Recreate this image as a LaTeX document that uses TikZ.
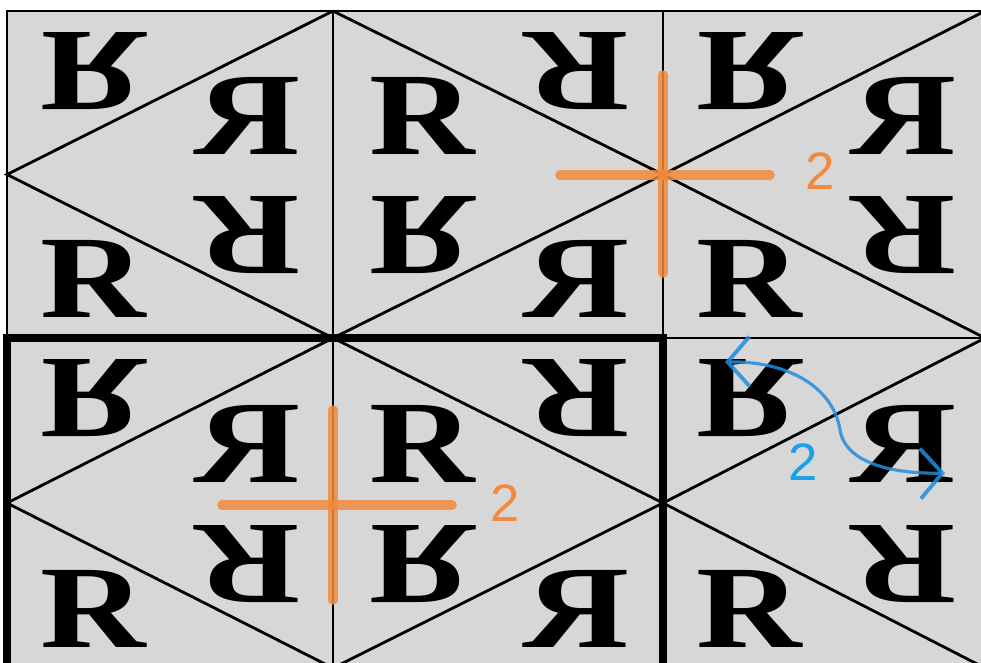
\documentclass[tikz,border=0pt]{standalone}
\usepackage{fontspec}
\setmainfont{Liberation Serif}
\newfontfamily\digitfont{Liberation Sans}
\usetikzlibrary{arrows.meta}
\definecolor{tilegray}{RGB}{215,215,215}
\definecolor{crossorange}{RGB}{242,138,60}
\definecolor{turnblue}{RGB}{35,140,220}
\definecolor{labelblue}{RGB}{25,160,230}
\tikzstyle{tileline}=[draw=black, line width=0.8pt]
\tikzstyle{boldline}=[draw=black, line width=2.2pt]
\tikzstyle{letter}=[inner sep=0pt, font=\fontsize{33.5}{34}\selectfont\bfseries, xscale=1.24]
\tikzstyle{rnormal}=[letter]
\tikzstyle{rhflip}=[letter, xscale=-1]
\tikzstyle{rvflip}=[letter, yscale=-1]
\tikzstyle{rturned}=[letter, rotate=180]
\tikzstyle{crossbar}=[draw=crossorange, opacity=0.85, line width=2.7pt, line cap=round]
\tikzstyle{ordernum}=[inner sep=0pt, font=\digitfont\fontsize{15}{15}\selectfont]
\tikzstyle{turnarrow}=[<->, >={Straight Barb[length=2.2mm, width=5mm, line width=1.1pt]}, draw=turnblue, opacity=0.85, line width=0.9pt]

\begin{document}
\begin{tikzpicture}[x=0.1mm, y=-0.1mm]
    \useasboundingbox (0,0) rectangle (981,662);
    \clip (0,0) rectangle (981,662);
    \fill[tilegray] (7,11) rectangle (985,670);

    % tiles with the apex on the left
    \foreach \n/\xa/\xb/\ya/\yb in {a/7/333/11/338, c/663/985/11/338, d/7/333/338/668, f/663/985/338/668} {
        \pgfmathsetmacro\ym{(\ya+\yb)/2}
        \draw[tileline] (\xb,\ya) -- (\xa,\ym) -- (\xb,\yb);
        \node[rvflip] (\n-tl) at (\xa+86,\ya+60) {R};
        \node[rhflip] (\n-mu) at (\xa+241,\ym-59) {R};
        \node[rturned] (\n-ml) at (\xa+241,\ym+61) {R};
        \node[rnormal] (\n-bl) at (\xa+86,\yb-59) {R};
    }

    % tiles with the apex on the right
    \foreach \n/\xa/\xb/\ya/\yb in {b/333/663/11/338, e/333/663/338/668} {
        \pgfmathsetmacro\ym{(\ya+\yb)/2}
        \draw[tileline] (\xa,\ya) -- (\xb,\ym) -- (\xa,\yb);
        \node[rturned] (\n-tr) at (\xb-86,\ya+60) {R};
        \node[rnormal] (\n-mu) at (\xa+89,\ym-59) {R};
        \node[rvflip] (\n-ml) at (\xa+89,\ym+61) {R};
        \node[rhflip] (\n-br) at (\xb-86,\yb-59) {R};
    }

    \draw[tileline] (985,11) -- (7,11) -- (7,668);
    \draw[tileline] (7,338) -- (985,338);
    \draw[tileline] (333,11) -- (333,668);
    \draw[tileline] (663,11) -- (663,668);
    \draw[boldline] (7,338) rectangle (663,668);

    % rotation centres of order 2
    \draw[crossbar] (560,175) -- (770,175);
    \draw[crossbar] (663,75) -- (663,273);
    \node[ordernum, text=crossorange] (two-a) at (820,171) {2};

    \draw[crossbar] (222,505) -- (452,505);
    \draw[crossbar] (333,410) -- (333,600);
    \node[ordernum, text=crossorange] (two-b) at (505,503) {2};

    \coordinate (turn-s) at (725,362);
    \coordinate (turn-e) at (945,473);
    \draw[turnarrow] (turn-s) .. controls (792,361) and (834,390) .. (840,430) .. controls (846,466) and (900,474) .. (turn-e);
    \node[ordernum, text=labelblue] (two-c) at (803,462) {2};
\end{tikzpicture}
\end{document}
